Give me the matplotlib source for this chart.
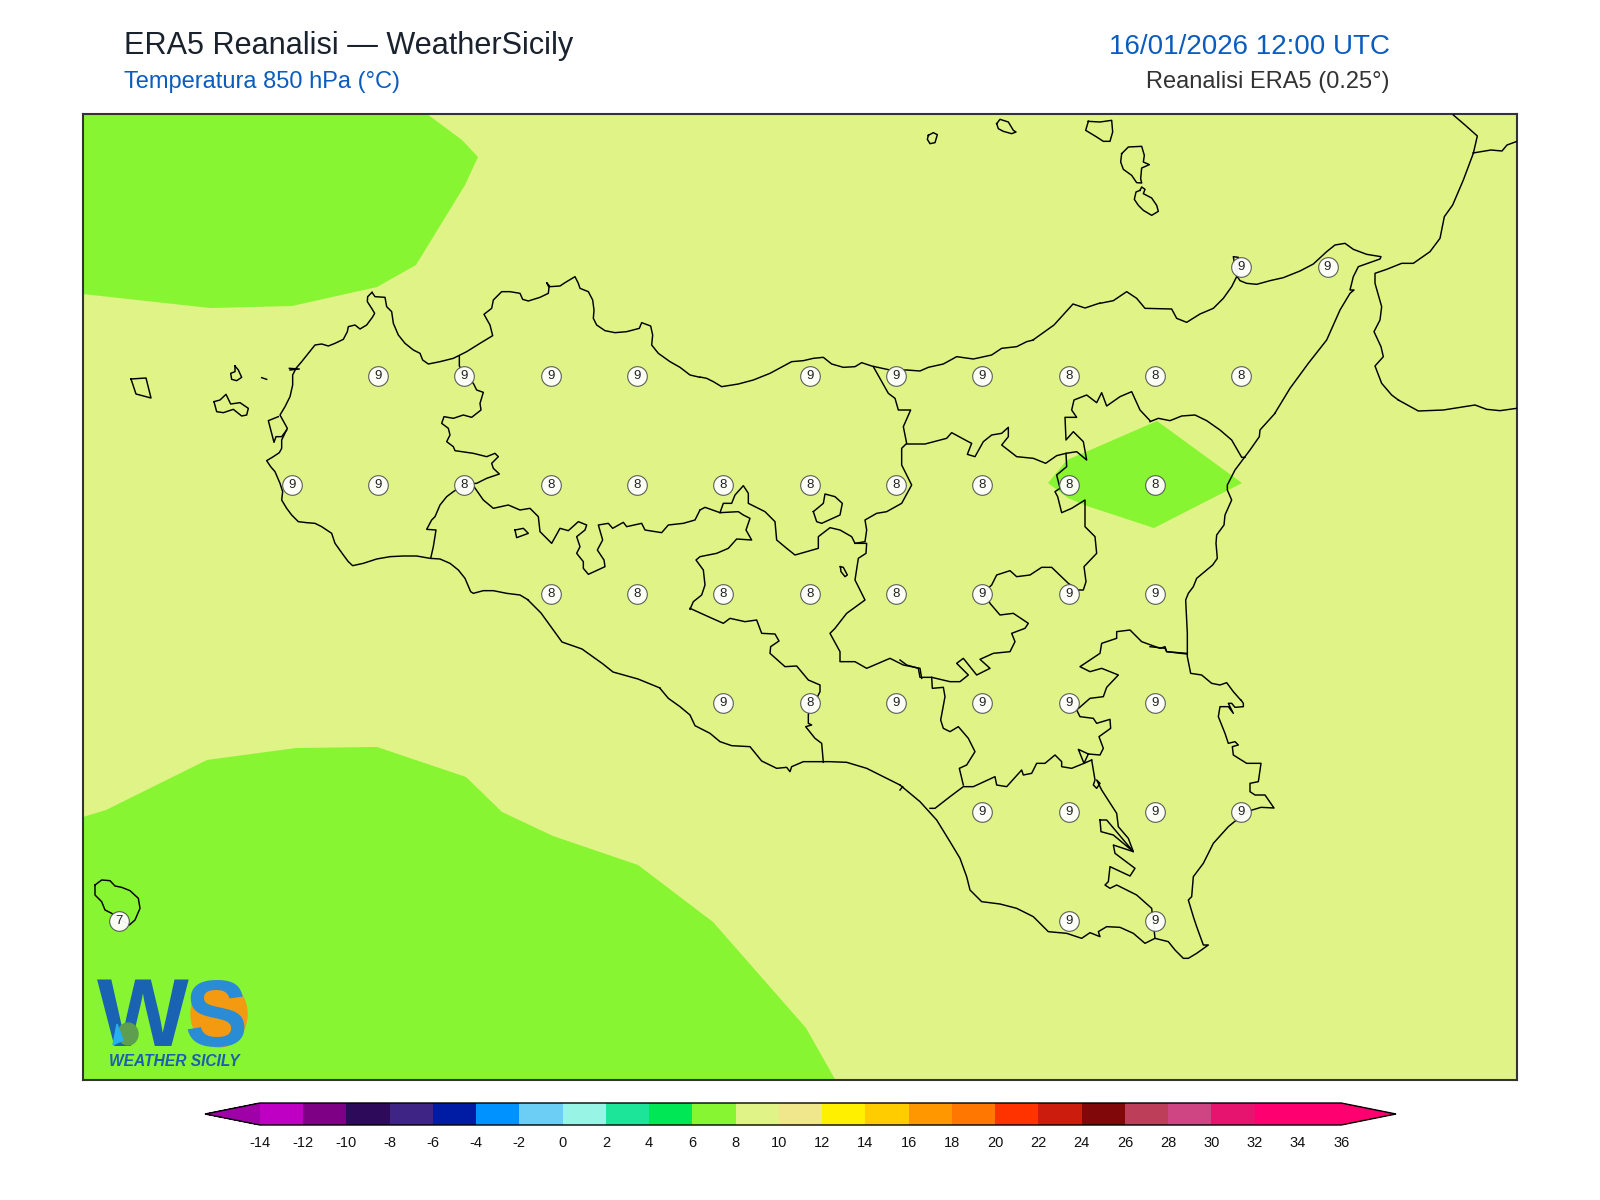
import numpy as np
import matplotlib
matplotlib.use("Agg")
import matplotlib.pyplot as plt
from matplotlib.colors import ListedColormap, BoundaryNorm
from matplotlib.colorbar import ColorbarBase
from matplotlib.patches import Ellipse, Polygon as MPoly

plt.rcParams['font.family'] = ['Liberation Sans', 'DejaVu Sans']

# ---- data -------------------------------------------------------------
TITLE = "ERA5 Reanalisi — WeatherSicily"
SUBTITLE = "Temperatura 850 hPa (°C)"
DATE = "16/01/2026 12:00 UTC"
SOURCE = "Reanalisi ERA5 (0.25°)"

levels = list(range(-14, 37, 2))
band_colors = ["#BF00C4", "#7D0085", "#2E0A5A", "#3E2485", "#001CA5", "#0093FF", "#6CCEF5",
               "#98F5E6", "#1CE59A", "#00E755", "#87F531", "#E0F386", "#F0E68C", "#FFF000",
               "#FFCC00", "#FF9800", "#FF7700", "#FF3300", "#CC1C0E", "#800808", "#BC3E59",
               "#CF4584", "#E6146E", "#FF0070", "#FF0070"]
under_color = "#A000A8"
over_color = "#FF0070"

grid_lat = [38.25, 38.25,
            38.0, 38.0, 38.0, 38.0, 38.0, 38.0, 38.0, 38.0, 38.0, 38.0,
            37.75, 37.75, 37.75, 37.75, 37.75, 37.75, 37.75, 37.75, 37.75, 37.75, 37.75,
            37.5, 37.5, 37.5, 37.5, 37.5, 37.5, 37.5, 37.5,
            37.25, 37.25, 37.25, 37.25, 37.25, 37.25,
            37.0, 37.0, 37.0, 37.0,
            36.75, 36.75, 36.75]
grid_lon = [15.25, 15.5,
            12.75, 13.0, 13.25, 13.5, 14.0, 14.25, 14.5, 14.75, 15.0, 15.25,
            12.5, 12.75, 13.0, 13.25, 13.5, 13.75, 14.0, 14.25, 14.5, 14.75, 15.0,
            13.25, 13.5, 13.75, 14.0, 14.25, 14.5, 14.75, 15.0,
            13.75, 14.0, 14.25, 14.5, 14.75, 15.0,
            14.5, 14.75, 15.0, 15.25,
            12.0, 14.75, 15.0]
grid_t = [9, 9,
          9, 9, 9, 9, 9, 9, 9, 8, 8, 8,
          9, 9, 8, 8, 8, 8, 8, 8, 8, 8, 8,
          8, 8, 8, 8, 8, 9, 9, 9,
          9, 8, 9, 9, 9, 9,
          9, 9, 9, 9,
          7, 9, 9]

# outlines: (crop x origin, crop y origin, points at 3x)
O4 = (200, 260); O5 = (680, 340); O6 = (900, 600); O7 = (1100, 110)
O8 = (660, 560); O9 = (900, 112); O10 = (80, 860); O11 = (1150, 400); O0 = (0, 0)

cold_nw = [(427,114),(462,140),(478,157),(465,185),(416,265),(377,287),(292,306),(210,308),(83,294),(83,114)]
cold_sw = [(83,817),(106,810),(207,760),(296,748),(377,747),(466,777),(502,812),(553,836),(638,865),(713,922),(806,1028),(836,1081),(83,1081)]
cold_etna = [(1048,483),(1067,460),(1088,451),(1157,421),(1242,483),(1154,528),(1087,506),(1068,498)]

west_coast = [(516,97),(503,110),(502,125),(515,145),(524,160),(517,172),(500,195),(480,207),(465,195),(445,200),(442,215),(430,238),(405,250),(385,258),(365,252),(345,255),(325,280),(305,305),(288,325),(278,345),(278,375),(270,410),(255,440),(240,465),(262,505),(245,540),(245,565),(238,578),(220,590),(200,602),(212,620),(225,635),(240,670),(248,695),(245,720),(260,745),(275,765),(295,785),(320,788),(345,790),(365,800),(395,820),(405,850),(430,885),(445,905),(458,917),(490,910),(530,897),(570,890),(610,888),(650,888),(690,895),(720,897),(750,910),(775,930),(795,955),(812,995),(820,1000),(850,992),(880,992),(920,1000),(960,1005),(985,1020)]
saltworks = [(235,470),(205,482),(222,547),(228,530),(245,530),(260,510)]
stagnone = [(268,325),(298,327),(270,330)]
north_coast_w = [(516,97),(525,110),(555,112),(560,140),(575,155),(580,190),(595,225),(615,250),(640,270),(660,280),(668,300),(685,312),(720,305),(760,295),(800,275),(840,250),(878,227),(870,195),(852,163),(875,145),(880,120),(905,95),(930,95),(960,100),(968,118),(985,123),(1020,112),(1045,100),(1047,82),(1040,68),(1050,80),(1080,78),(1095,68),(1125,50),(1135,70),(1140,85),(1165,95),(1178,120),(1182,150),(1180,175),(1190,195),(1215,212),(1245,218),(1280,215),(1318,205),(1325,188),(1352,198),(1358,225),(1355,255),(1375,280),(1410,305),(1440,322),(1470,345),(1500,352)]
north_coast_c = [(60,111),(80,115),(100,125),(125,140),(175,132),(220,120),(270,100),(335,65),(370,62),(400,55),(430,52),(455,72),(490,82),(525,80),(545,68),(575,78),(630,90),(680,90),(720,93),(745,82),(790,72),(830,50),(880,57),(935,45),(965,25),(1010,20),(1040,5),(1060,0)]
north_coast_link = [(1033,340),(1054,325),(1073,304),(1085,308),(1100,303)]
north_coast_e = [(0,580),(40,572),(80,545),(110,565),(135,595),(215,597),(230,625),(260,637),(300,612),(340,595),(370,565),(395,530),(410,500),(400,440),(415,442),(412,500),(420,512),(440,520),(470,523),(510,512),(550,503),(600,483),(640,462),(680,425),(705,405),(735,400),(760,418),(800,433),(843,440),(840,447),(775,470),(760,500),(750,540),(762,540),(750,550),(720,600),(680,690),(625,760),(570,835),(525,909)]
east_coast = [(375,40),(330,90),(328,110),(300,150),(285,170),(255,210),(232,255),(232,270),(245,300),(225,345),(222,375),(200,405),(198,430),(202,475),(188,495),(170,510),(140,535),(130,560),(115,580),(107,600),(112,700),(112,770),(122,820),(155,825),(185,850),(210,855),(230,848),(250,875),(272,900)]
se_coast = [(1023,300),(1030,310),(1030,320),(1005,322),(995,310),(985,310),(1000,340),(985,320),(960,320),(955,350),(975,400),(985,430),(1005,425),(1015,435),(997,440),(1000,465),(1040,490),(1083,490),(1075,545),(1050,550),(1050,575),(1065,585),(1095,585),(1122,624),(1083,622),(1040,635),(985,680),(940,730),(910,790),(880,830),(875,890),(865,900),(880,950),(890,980),(910,1035),(925,1035),(890,1060),(865,1075),(850,1075),(825,1050),(805,1025),(765,1015),(735,1030),(700,1000),(660,982),(620,980),(595,995),(600,1010),(570,998),(545,1015),(500,1000),(445,995),(400,950),(350,925),(300,912),(245,905),(210,870),(200,830),(180,775),(150,725),(110,660),(60,605),(0,555)]
south_coast = [(720,675),(690,660),(620,625),(560,607),(510,605),(430,605),(395,620),(390,635),(380,622),(350,625),(305,603),(270,560),(215,557),(180,545),(150,520),(105,497),(90,465),(60,440),(25,415),(0,385)]
south_coast_w = [(660,688),(638,679),(613,672),(603,664),(582,649),(562,642),(541,613),(528,600)]

tp_pa = [(778,290),(778,318),(795,348),(820,370),(830,390),(850,397),(840,430),(843,450),(815,472),(790,465),(760,475),(732,470),(725,490),(745,505),(750,525),(740,545),(760,560),(765,572),(820,580),(860,590),(885,580),(895,590),(875,610),(880,625),(898,642),(860,655),(830,670),(795,672),(760,695),(740,710),(720,735),(705,770),(695,780),(680,808),(708,810),(700,860),(692,895)]
pa_ag = [(822,680),(850,720),(880,745),(925,735),(960,750),(990,745),(1015,770),(1020,815),(1055,850),(1080,805),(1105,812),(1135,785),(1160,795),(1155,810),(1130,830),(1140,860),(1130,880),(1150,905),(1150,925),(1165,943),(1215,920),(1212,900),(1192,870),(1208,840),(1195,795),(1225,790),(1238,805),(1270,787),(1280,800),(1325,790),(1335,810),(1385,818),(1405,795),(1450,790),(1485,780),(1500,750)]
ag_cl_n = [(60,510),(75,502),(120,518),(175,515),(190,525),(210,535),(198,570),(215,600),(170,597),(145,625),(110,640),(60,650),(48,660),(70,690),(75,735),(65,765),(40,785),(30,808)]
ag_cl_s = [(90,145),(145,170),(190,190),(210,175),(255,185),(290,180),(305,220),(345,222),(357,243),(332,260),(330,280),(375,320),(410,318),(445,360),(480,375),(480,395),(470,415),(450,428),(445,465),(445,490),(455,495),(437,500),(465,535),(485,550),(490,607)]
pa_cl = [(120,518),(130,490),(155,490),(165,465),(190,437),(205,460),(205,490),(255,515),(285,545),(290,600),(320,625),(345,645),(415,625),(415,590),(450,563),(480,570),(515,590),(525,610),(555,605),(560,570),(555,540),(590,520),(620,515),(665,490),(695,435),(680,405),(665,375),(665,325),(680,310),(670,260),(692,210),(655,210),(645,175),(625,160),(580,80)]
cl_en = [(525,610),(560,610),(558,640),(535,655),(525,720),(555,780),(500,820),(465,865),(450,880),(480,935),(480,965),(525,965),(560,985),(630,955),(670,975),(720,985),(725,1015)]
en_s = [(0,180),(20,195),(55,205),(60,232),(95,232),(150,245),(180,245),(205,225),(170,190),(190,175),(230,225),(270,205),(240,178),(280,160),(330,155),(345,125),(335,100),(375,85),(385,70),(340,40),(300,45),(270,10),(250,-30)]
en_ct = [(908,760),(935,735),(950,705),(990,692),(1010,710),(1050,705),(1085,682),(1115,682),(1165,730),(1195,750),(1210,750),(1218,725),(1212,680),(1250,640),(1245,590),(1215,560),(1215,480),(1175,505),(1145,518),(1133,470),(1125,455),(1140,445),(1130,405),(1160,380),(1158,340),(1190,335),(1220,360),(1210,305),(1180,275),(1158,300),(1155,232),(1190,232),(1175,210),(1182,180),(1220,165),(1250,188),(1265,158),(1280,198),(1320,170),(1355,155),(1380,210),(1410,242)]
me_ct = [(0,65),(25,55),(60,62),(95,48),(135,45),(170,62),(210,90),(245,120),(275,172),(285,172)]
me_en = [(680,312),(735,312),(800,295),(815,278),(865,305),(875,310),(862,343),(885,350),(910,305),(935,285),(965,280),(985,262),(985,290),(965,315),(1010,350),(1060,355),(1097,370),(1130,347),(1158,340)]
ct_sr_e = [(0,740),(45,745),(50,755),(110,762)]
ct_sr = [(860,160),(800,155),(795,140),(780,145),(725,125),(690,90),(650,95),(650,115),(605,130),(600,160),(540,200),(570,215),(605,205),(655,225),(620,262),(610,290),(570,295),(530,330),(508,308)]
ct_rg = [(530,330),(540,350),(580,355),(590,370),(630,358),(632,385),(597,410),(610,445),(600,465),(565,462),(535,448),(552,490),(565,462)]
rg_sr = [(575,480),(585,540),(580,555),(590,565),(600,550),(590,540),(605,570),(650,640),(655,680),(685,715),(700,755),(640,735),(645,760),(705,805),(690,828),(630,800),(625,845),(615,855),(630,865),(650,855),(710,885),(755,925),(765,1015)]
rg_lagoon = [(600,660),(620,660),(700,755),(640,705),(603,695),(600,660)]
ct_rg_s = [(90,625),(105,625),(150,590),(190,560),(220,560),(285,530),(290,555),(320,560),(365,510),(370,525),(395,520),(410,490),(435,490),(465,465),(485,485),(485,500),(515,505),(552,490),(575,480)]
cl_ct = [(95,232),(97,265),(130,262),(135,290),(122,360),(130,385),(150,395),(175,380),(205,415),(225,455),(200,495),(178,505),(190,555)]
gela_tick = [(0,570),(8,560)]
calabria = [(1060,15),(1095,45),(1132,78),(1120,130),(1090,210),(1058,285),(1033,320),(1020,385),(990,425),(940,460),(905,460),(860,478),(825,490),(825,520),(845,590),(840,630),(822,665),(843,710),(850,740),(825,768),(845,820),(875,855),(895,870)]
calabria_b = [(1473,153),(1491,150),(1502,151),(1507,145),(1518,141)]
calabria_e = [(745,0),(805,33),(880,30),(975,15),(1010,28),(1050,32),(1100,25)]

lake = [(481,680),(490,682),(502,705),(495,710),(483,695),(481,680)]
enclave_a = [(945,810),(970,805),(985,820),(950,833),(945,810)]
enclave_b = [(400,515),(430,490),(435,462),(465,470),(487,490),(480,525),(425,550),(410,545),(400,515)]
alicudi = [(85,70),(100,62),(112,68),(105,92),(90,95),(82,82),(85,70)]
filicudi = [(290,35),(300,22),(325,30),(340,55),(348,60),(335,65),(310,58),(295,50),(290,35)]
salina = [(565,28),(600,30),(635,25),(638,60),(630,88),(610,88),(590,75),(557,55),(565,28)]
lipari = [(665,125),(685,105),(725,103),(733,130),(730,150),(748,158),(725,168),(722,200),(725,213),(710,212),(695,190),(670,172),(662,150),(665,125)]
vulcano = [(720,235),(725,225),(735,232),(730,245),(755,258),(770,280),(775,298),(755,310),(730,295),(715,280),(703,262),(708,240),(720,235)]
levanzo = [(105,318),(115,330),(125,352),(110,362),(95,358),(92,340),(105,335),(105,318)]
favignana = [(42,425),(60,420),(78,403),(92,432),(120,428),(145,445),(140,465),(125,468),(100,448),(70,458),(50,455),(42,425)]
formica = [(185,353),(200,358)]
marettimo = [(131,379),(146,378),(151,398),(136,394),(131,379)]
pantelleria = [(45,75),(65,60),(90,62),(105,78),(125,82),(150,92),(175,115),(180,145),(165,180),(148,195),(120,178),(95,160),(75,150),(65,125),(45,105),(45,75)]

outlines = [(O4, west_coast), (O4, saltworks), (O4, stagnone), (O4, north_coast_w), (O5, north_coast_c),
            (O0, north_coast_link), (O7, north_coast_e), (O11, east_coast), (O6, se_coast), (O8, south_coast),
            (O0, south_coast_w), (O4, tp_pa), (O4, pa_ag), (O5, ag_cl_n), (O8, ag_cl_s), (O5, pa_cl),
            (O5, cl_en), (O6, en_s), (O5, en_ct), (O11, me_ct), (O5, me_en), (O11, ct_sr_e), (O6, ct_sr),
            (O6, ct_rg), (O6, rg_sr), (O6, rg_lagoon), (O6, ct_rg_s), (O6, cl_ct), (O6, gela_tick),
            (O7, calabria), (O0, calabria_b), (O11, calabria_e), (O5, lake), (O4, enclave_a), (O5, enclave_b),
            (O9, alicudi), (O9, filicudi), (O9, salina), (O9, lipari), (O9, vulcano), (O4, levanzo),
            (O4, favignana), (O4, formica), (O0, marettimo), (O10, pantelleria)]

# ---- geometry ---------------------------------------------------------
W, H = 1600, 1200
AX_L, AX_R, AX_T, AX_B = 83, 1517, 114, 1080
PX_DEG_X, PX_DEG_Y = 345.3, 436.0

def to_lon(px):
    return 12.0 + (px - 119.0) / PX_DEG_X

def to_lat(py):
    return 36.75 + (921.0 - py) / PX_DEG_Y

def crop_to_geo(origin, pts):
    a = np.array(pts, dtype=float)
    scale = 1.0 if origin == O0 else 3.0
    return to_lon(origin[0] + a[:, 0] / scale), to_lat(origin[1] + a[:, 1] / scale)

def frac(px, py):
    return px / W, 1 - py / H

fig = plt.figure(figsize=(16, 12), dpi=100, facecolor="white")
ax = fig.add_axes([AX_L / W, 1 - AX_B / H, (AX_R - AX_L) / W, (AX_B - AX_T) / H])

cmap = ListedColormap(band_colors)
cmap.set_under(under_color)
cmap.set_over(over_color)
norm = BoundaryNorm(levels, cmap.N)

ax.set_facecolor(cmap(norm(9)))
for poly in (cold_nw, cold_sw, cold_etna):
    x, y = crop_to_geo(O0, poly)
    ax.fill(x, y, color=cmap(norm(7)), lw=0, zorder=1)

for origin, pts in outlines:
    x, y = crop_to_geo(origin, pts)
    ax.plot(x, y, color="black", lw=1.05, solid_joinstyle="round", zorder=3)

ax.scatter(grid_lon, grid_lat, s=200, facecolor="white", edgecolor="#555555", linewidth=0.8, alpha=0.95, zorder=4)
for lo, la, t in zip(grid_lon, grid_lat, grid_t):
    ax.text(lo, la, str(t), ha="center", va="center", fontsize=9.5, color="#222222", zorder=5)

ax.set_xlim(to_lon(AX_L), to_lon(AX_R))
ax.set_ylim(to_lat(AX_B), to_lat(AX_T))
ax.set_xticks([]); ax.set_yticks([])
for s in ax.spines.values():
    s.set_linewidth(1.5)
    s.set_color("#333333")

# ---- titles -----------------------------------------------------------
fx, fy = frac(124, 54)
fig.text(fx, fy, TITLE, fontsize=22.1, color="#1A222E", ha="left", va="baseline")
fx, fy = frac(124, 88)
fig.text(fx, fy, SUBTITLE, fontsize=17.05, color="#0B5CBF", ha="left", va="baseline")
fx, fy = frac(1390, 54)
fig.text(fx, fy, DATE, fontsize=20, color="#0B5CBF", ha="right", va="baseline")
fx, fy = frac(1390, 88)
fig.text(fx, fy, SOURCE, fontsize=17, color="#333333", ha="right", va="baseline")

# ---- colourbar --------------------------------------------------------
cax = fig.add_axes([205 / W, 1 - 1125 / H, (1396 - 205) / W, 22 / H])
cb = ColorbarBase(cax, cmap=cmap, norm=norm, boundaries=[levels[0] - 2] + levels + [levels[-1] + 2],
                  extend="both", extendfrac=0.0507, spacing="uniform", ticks=levels,
                  orientation="horizontal", drawedges=False)
cb.set_ticklabels([str(v) for v in levels])
cax.tick_params(length=0, labelsize=10.5, pad=8, labelcolor="#111111")
cb.outline.set_linewidth(1.0)
cb.outline.set_edgecolor("black")

# ---- logo -------------------------------------------------------------
lax = fig.add_axes([90 / W, 1 - 1075 / H, 170 / W, 105 / H], zorder=6)
lax.set_xlim(90, 260); lax.set_ylim(1075, 970); lax.axis("off")
lax.add_patch(Ellipse((219, 1014), 56, 66, color="#F39A10", zorder=1))
lax.text(143, 1046, "W", fontsize=70, fontweight="bold", color="#1A62B2", ha="center", va="baseline", zorder=2)
lax.text(216, 1046, "S", fontsize=68, fontweight="bold", color="#2B8CD6", ha="center", va="baseline", zorder=3)
lax.add_patch(Ellipse((128, 1034), 20, 22, color="#5E9E50", zorder=4))
lax.add_patch(MPoly([(117, 1024), (123, 1040), (113, 1045)], color="#26B0F0", zorder=4))
lax.text(174, 1061, "WEATHER SICILY", fontsize=11.2, fontweight="bold", fontstyle="italic",
         color="#1B5FAF", ha="center", va="center", zorder=5)

fig.savefig("out.png", dpi=100)
